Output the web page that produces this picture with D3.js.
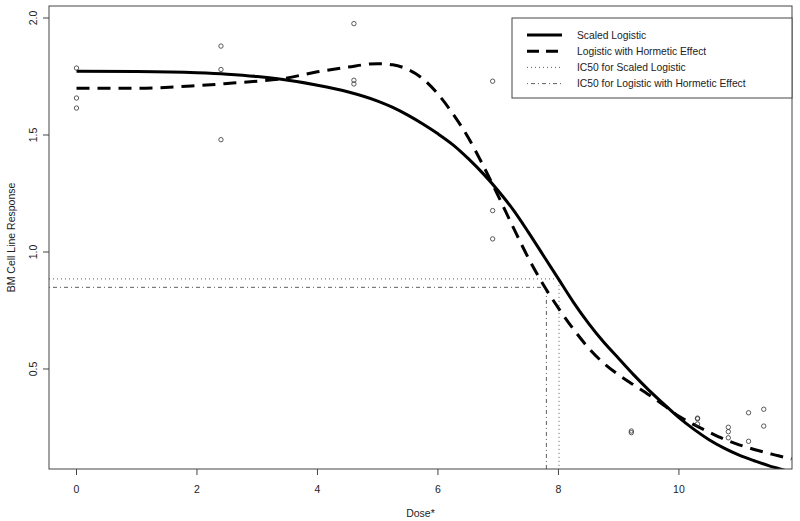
<!DOCTYPE html>
<html>
<head>
<meta charset="utf-8">
<script src="https://cdn.jsdelivr.net/npm/d3@7"></script>
<style>
    body { margin: 0; background: #fff; }
    svg { display: block; font-family: "Liberation Sans", Arial, sans-serif; }
</style>
</head>
<body>
<svg id="chart" width="800" height="521"></svg>
<script>
// observed responses (x = log dose)
const obsDose = [0, 0, 0, 2.398, 2.398, 2.398, 4.605, 4.605, 4.605, 6.908, 6.908, 6.908,
    9.210, 9.210, 10.309, 10.309, 10.309, 10.820, 10.820, 10.820, 11.156, 11.156, 11.408, 11.408]
const obsResp = [1.786, 1.658, 1.615, 1.88, 1.78, 1.48, 1.976, 1.734, 1.718, 1.73, 1.177, 1.056,
    0.235, 0.228, 0.29, 0.287, 0.265, 0.251, 0.232, 0.206, 0.313, 0.191, 0.328, 0.256]

// fitted curves
const curveX = [0, 1, 2, 2.5, 3, 3.4, 4, 4.5, 5, 5.25, 5.5, 5.75, 6, 6.25, 6.5, 6.75, 7, 7.25, 7.5, 7.75,
    8, 8.25, 8.5, 8.75, 9, 9.25, 9.5, 9.75, 10, 10.25, 10.5, 10.75, 11, 11.25, 11.5, 11.65, 11.87]
const scaledLogistic = [1.772, 1.771, 1.766, 1.760, 1.750, 1.738, 1.713, 1.685, 1.645, 1.618, 1.585, 1.547, 1.505, 1.458, 1.40, 1.335, 1.262, 1.18, 1.085, 0.985,
    0.885, 0.785, 0.695, 0.615, 0.545, 0.475, 0.41, 0.35, 0.292, 0.242, 0.198, 0.162, 0.132, 0.108, 0.086, 0.075, 0.058]
const hormetic = [1.70, 1.70, 1.711, 1.72, 1.73, 1.74, 1.77, 1.79, 1.805, 1.80, 1.78, 1.74, 1.675, 1.59, 1.49, 1.37, 1.24, 1.105, 0.975, 0.86,
    0.76, 0.67, 0.59, 0.525, 0.475, 0.432, 0.39, 0.345, 0.298, 0.262, 0.23, 0.2, 0.176, 0.156, 0.139, 0.129, 0.116]

const ic50Scaled = {x: 8.01, y: 0.885}
const ic50Hormetic = {x: 7.80, y: 0.849}

const xTicks = [0, 2, 4, 6, 8, 10]
const yTicks = [0.5, 1.0, 1.5, 2.0]
const legendLabels = ['Scaled Logistic', 'Logistic with Hormetic Effect',
    'IC50 for Scaled Logistic', 'IC50 for Logistic with Hormetic Effect']

const svg = d3.select('#chart')
const box = {left: 49, right: 792, top: 6, bottom: 469}
const ink = '#222'

const x = d3.scaleLinear().domain([-0.4564, 11.877]).range([box.left, box.right])
const y = d3.scaleLinear().domain([0.0726, 2.0513]).range([box.bottom, box.top])

svg.append('defs').append('clipPath').attr('id', 'plot-clip')
    .append('rect')
    .attr('x', box.left).attr('y', box.top)
    .attr('width', box.right - box.left).attr('height', box.bottom - box.top)

const plot = svg.append('g').attr('clip-path', 'url(#plot-clip)')

// IC50 reference lines
function icLine(ic, dash) {
    plot.append('path')
        .attr('d', `M${x.range()[0]},${y(ic.y)}H${x(ic.x)}V${y.range()[0]}`)
        .attr('fill', 'none')
        .attr('stroke', '#333')
        .attr('stroke-width', 0.8)
        .attr('stroke-dasharray', dash)
}
icLine(ic50Scaled, '1,3')
icLine(ic50Hormetic, '1,3,4,3')

const line = d3.line().x(d => x(d[0])).y(d => y(d[1])).curve(d3.curveMonotoneX)

plot.append('path')
    .datum(curveX.map((d, i) => [d, scaledLogistic[i]]))
    .attr('d', line)
    .attr('fill', 'none')
    .attr('stroke', '#000')
    .attr('stroke-width', 3)

plot.append('path')
    .datum(curveX.map((d, i) => [d, hormetic[i]]))
    .attr('d', line)
    .attr('fill', 'none')
    .attr('stroke', '#000')
    .attr('stroke-width', 3)
    .attr('stroke-dasharray', '13,8')

plot.append('g')
    .selectAll('circle')
    .data(obsDose.map((d, i) => [d, obsResp[i]]))
    .join('circle')
    .attr('cx', d => x(d[0]))
    .attr('cy', d => y(d[1]))
    .attr('r', 2.2)
    .attr('fill', 'none')
    .attr('stroke', '#333')
    .attr('stroke-width', 0.8)

// frame
svg.append('rect')
    .attr('x', box.left).attr('y', box.top)
    .attr('width', box.right - box.left).attr('height', box.bottom - box.top)
    .attr('fill', 'none')
    .attr('stroke', '#444')
    .attr('stroke-width', 1)

// x axis
const xAxis = svg.append('g').attr('transform', 'translate(0,' + box.bottom + ')')
xAxis.selectAll('line')
    .data(xTicks)
    .join('line')
    .attr('x1', d => x(d)).attr('x2', d => x(d))
    .attr('y1', 0).attr('y2', 6)
    .attr('stroke', '#444')
xAxis.selectAll('text')
    .data(xTicks)
    .join('text')
    .attr('x', d => x(d))
    .attr('y', 24)
    .attr('text-anchor', 'middle')
    .attr('font-size', '10.5px')
    .attr('fill', ink)
    .text(d => d)

// y axis
const yAxis = svg.append('g').attr('transform', 'translate(' + box.left + ',0)')
yAxis.selectAll('line')
    .data(yTicks)
    .join('line')
    .attr('x1', 0).attr('x2', -6)
    .attr('y1', d => y(d)).attr('y2', d => y(d))
    .attr('stroke', '#444')
yAxis.selectAll('text')
    .data(yTicks)
    .join('text')
    .attr('transform', d => `translate(-12,${y(d)}) rotate(-90)`)
    .attr('text-anchor', 'middle')
    .attr('font-size', '10.5px')
    .attr('fill', ink)
    .text(d => d3.format('.1f')(d))

svg.append('text')
    .attr('x', (box.left + box.right) / 2)
    .attr('y', 517)
    .attr('text-anchor', 'middle')
    .attr('font-size', '10.5px')
    .attr('fill', ink)
    .text('Dose*')

svg.append('text')
    .attr('transform', `translate(15,${(box.top + box.bottom) / 2}) rotate(-90)`)
    .attr('text-anchor', 'middle')
    .attr('font-size', '10.5px')
    .attr('fill', ink)
    .text('BM Cell Line Response')

// legend
const legend = svg.append('g')
legend.append('rect')
    .attr('x', 512).attr('y', 18)
    .attr('width', 280).attr('height', 80)
    .attr('fill', '#fff')
    .attr('stroke', '#444')
const legendStyles = [
    {w: 3, dash: null}, {w: 3, dash: '12,7'}, {w: 0.8, dash: '1,3'}, {w: 0.8, dash: '1,3,4,3'}
]
legendLabels.forEach(function (label, i) {
    const ly = 35 + i * 16.2
    legend.append('line')
        .attr('x1', 527).attr('x2', 562)
        .attr('y1', ly).attr('y2', ly)
        .attr('stroke', i < 2 ? '#000' : '#333')
        .attr('stroke-width', legendStyles[i].w)
        .attr('stroke-dasharray', legendStyles[i].dash)
    legend.append('text')
        .attr('x', 577)
        .attr('y', ly + 3.8)
        .attr('font-size', '10.3px')
        .attr('fill', ink)
        .text(label)
})
</script>
</body>
</html>
